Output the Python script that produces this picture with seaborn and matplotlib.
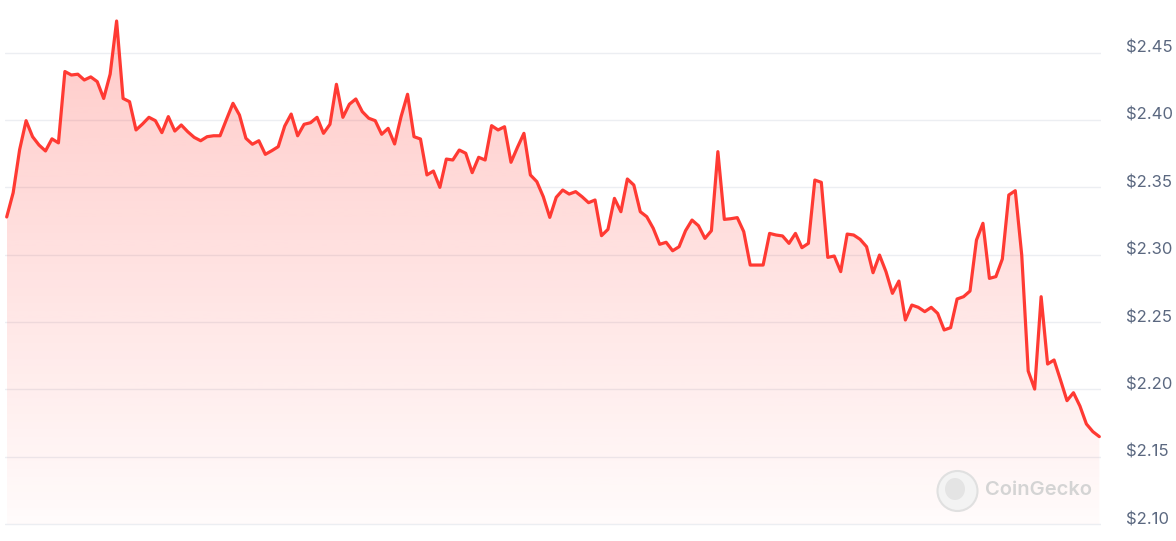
import numpy as np
import pandas as pd
import seaborn as sns
import matplotlib.pyplot as plt
import matplotlib.transforms as mtransforms
from matplotlib.patches import Circle, Ellipse

# price series (USD), evenly spaced in time
prices = [
    2.328, 2.346, 2.378, 2.3995, 2.3876, 2.3814, 2.377, 2.386, 2.383, 2.436,
    2.4334, 2.434, 2.4297, 2.432, 2.4285, 2.416, 2.434, 2.4735, 2.416, 2.4136,
    2.3926, 2.397, 2.402, 2.3995, 2.3906, 2.4025, 2.3918, 2.3963, 2.3913, 2.3871,
    2.3846, 2.3876, 2.3883, 2.3883, 2.4005, 2.4124, 2.4037, 2.3864, 2.382, 2.3846,
    2.3745, 2.3772, 2.3802, 2.3955, 2.4044, 2.3883, 2.3968, 2.398, 2.402, 2.3901,
    2.3968, 2.4265, 2.402, 2.4117, 2.4156, 2.4062, 2.4013, 2.3995, 2.3894, 2.3938,
    2.3822, 2.4025, 2.4191, 2.3876, 2.3859, 2.3592, 2.3621, 2.350, 2.371, 2.3703,
    2.3777, 2.3753, 2.3609, 2.3723, 2.3703, 2.3958, 2.3926, 2.395, 2.3686, 2.3797,
    2.3901, 2.3592, 2.3542, 2.343, 2.3277, 2.3426, 2.348, 2.345, 2.3468, 2.343,
    2.3386, 2.3406, 2.3141, 2.3188, 2.3418, 2.3319, 2.3562, 2.3517, 2.3319, 2.3282,
    2.3196, 2.3077, 2.3092, 2.3029, 2.3059, 2.3178, 2.3257, 2.3215, 2.3121, 2.3178,
    2.3765, 2.3262, 2.3267, 2.3275, 2.3171, 2.2923, 2.2923, 2.2923, 2.3158, 2.3146,
    2.3139, 2.3084, 2.3158, 2.3052, 2.3084, 2.3554, 2.3537, 2.298, 2.299, 2.2874,
    2.3153, 2.3146, 2.3114, 2.3059, 2.2866, 2.2997, 2.2874, 2.2713, 2.2804, 2.2515,
    2.2626, 2.2609, 2.2577, 2.2609, 2.2564, 2.2441, 2.2458, 2.2671, 2.2688, 2.273,
    2.3109, 2.3233, 2.2824, 2.2837, 2.2968, 2.3443, 2.3475, 2.2997, 2.2136, 2.2002,
    2.2688, 2.2188, 2.2218, 2.2069, 2.1916, 2.1975, 2.1876, 2.1743, 2.1686, 2.1649,
]
tick_values = [2.10, 2.15, 2.20, 2.25, 2.30, 2.35, 2.40, 2.45]
tick_labels = ["$2.10", "$2.15", "$2.20", "$2.25", "$2.30", "$2.35", "$2.40", "$2.45"]

df = pd.DataFrame({"t": np.arange(len(prices)), "price": prices})

sns.set_theme(style="white")
plt.rcParams["font.family"] = ["Inter", "DejaVu Sans"]

line_color = "#ff3a33"
fig = plt.figure(figsize=(11.76, 5.41), dpi=100)
ax = fig.add_axes([4.7 / 1176, 0, 1096.3 / 1176, 1])

ax.set_xlim(-0.31, len(prices) - 1 + 0.26)
ax.set_ylim(2.0874, 2.4891)

# gradient fill under the line, clipped to the area polygon
fill = ax.fill_between(df["t"], df["price"], 2.10, color="none", lw=0)
grad = np.zeros((256, 1, 4))
grad[..., 0] = 1.0
grad[..., 1] = 58 / 255
grad[..., 2] = 51 / 255
grad[:, 0, 3] = np.linspace(0.02, 0.27, 256)
img = ax.imshow(grad, aspect="auto", origin="lower",
                extent=[df["t"].min(), df["t"].max(), 2.10, max(prices)],
                zorder=1)
img.set_clip_path(fill.get_paths()[0], transform=ax.transData)

sns.lineplot(data=df, x="t", y="price", ax=ax, color=line_color,
             linewidth=2.3, zorder=3)

for v in tick_values:
    ax.axhline(v, color="#eceef2", lw=1, zorder=0)

ax.set_yticks(tick_values)
ax.set_yticklabels(tick_labels)
ax.yaxis.tick_right()
ax.tick_params(axis="y", length=0, pad=18, labelsize=12, labelcolor="#5b6880")
ax.set_xticks([])
ax.set_xlabel("")
ax.set_ylabel("")
for s in ax.spines.values():
    s.set_visible(False)
ax.set_facecolor("none")

# labels sit a little above their gridlines
shift = mtransforms.ScaledTranslation(0, 0.06, fig.dpi_scale_trans)
for lab in ax.get_yticklabels():
    lab.set_transform(lab.get_transform() + shift)

# CoinGecko watermark (pixel coordinates, origin bottom-left)
px = mtransforms.IdentityTransform()
fig.patches.append(Circle((957.5, 50), 20, transform=px,
                          facecolor="#f3f3f3", edgecolor="#e0e0e0", lw=1.5, zorder=5))
fig.patches.append(Ellipse((955, 52), 20, 22, transform=px,
                           facecolor="#e4e4e4", edgecolor="none", zorder=6))
fig.text(985 / 1176, 1 - 490 / 541, "CoinGecko", fontsize=14.5, fontweight="semibold",
         color="#d4d4d4", va="center", ha="left")

fig.savefig("out.png", dpi=100)
